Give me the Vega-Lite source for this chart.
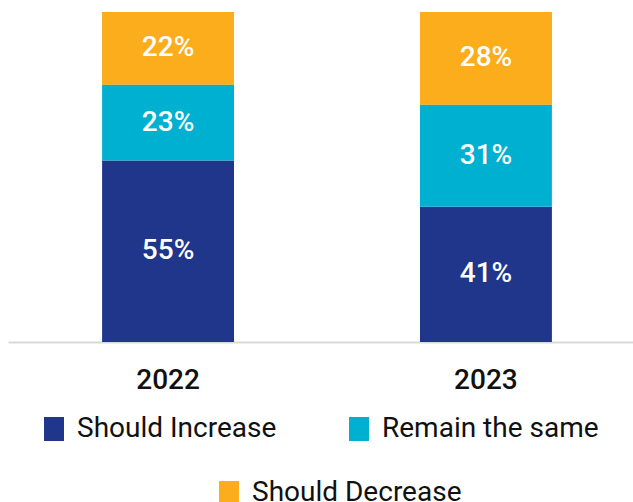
{
  "$schema": "https://vega.github.io/schema/vega-lite/v6.json",
  "width": 638,
  "height": 330,
  "autosize": "none",
  "padding": {"left": 8, "top": 12, "right": 0, "bottom": 160},
  "background": "white",
  "config": {"view": {"stroke": null}, "font": "Roboto"},
  "data": {"values": [
    {"year": "2022", "category": "Should Increase", "share": 0.55, "order": 1},
    {"year": "2022", "category": "Remain the same", "share": 0.23, "order": 2},
    {"year": "2022", "category": "Should Decrease", "share": 0.22, "order": 3},
    {"year": "2023", "category": "Should Increase", "share": 0.41, "order": 1},
    {"year": "2023", "category": "Remain the same", "share": 0.31, "order": 2},
    {"year": "2023", "category": "Should Decrease", "share": 0.28, "order": 3}
  ]},
  "transform": [
    {"stack": "share", "groupby": ["year"], "sort": [{"field": "order", "order": "ascending"}], "as": ["v0", "v1"]}
  ],
  "encoding": {
    "x": {
      "field": "year", "type": "nominal",
      "scale": {"paddingInner": 0.585, "paddingOuter": 0.296},
      "axis": {
        "title": null, "labelAngle": 0, "ticks": false,
        "domainColor": "#d9d9d9", "domainWidth": 2,
        "labelFontSize": 28, "labelFontWeight": 500, "labelColor": "#111111",
        "labelPadding": 24
      }
    }
  },
  "layer": [
    {
      "mark": {"type": "bar"},
      "encoding": {
        "y": {"field": "v0", "type": "quantitative", "scale": {"domain": [0, 1]}, "axis": null},
        "y2": {"field": "v1"},
        "color": {
          "field": "category", "type": "nominal",
          "scale": {"domain": ["Should Increase", "Remain the same", "Should Decrease"], "range": ["#1f368a", "#00b0d0", "#fbad1b"]},
          "legend": {
            "values": ["Should Increase", "Remain the same"],
            "orient": "none", "legendX": 32, "legendY": 403,
            "direction": "horizontal", "title": null,
            "symbolType": "M-0.833,-1H0.833V1H-0.833Z", "symbolSize": 576, "symbolStrokeWidth": 0, "symbolOpacity": 1,
            "labelFontSize": 28, "labelColor": "#111111", "labelOffset": 9,
            "columnPadding": 68, "labelLimit": 400
          }
        }
      }
    },
    {
      "transform": [{"filter": "datum.category == 'Should Decrease'"}],
      "mark": {"type": "bar"},
      "encoding": {
        "y": {"field": "v0", "type": "quantitative", "scale": {"domain": [0, 1]}, "axis": null},
        "y2": {"field": "v1"},
        "color": {
          "field": "category", "type": "nominal",
          "scale": {"domain": ["Should Decrease"], "range": ["#fbad1b"]},
          "legend": {
            "orient": "none", "legendX": 207, "legendY": 467,
            "direction": "horizontal", "title": null,
            "symbolType": "M-0.833,-1H0.833V1H-0.833Z", "symbolSize": 576, "symbolStrokeWidth": 0, "symbolOpacity": 1,
            "labelFontSize": 28, "labelColor": "#111111", "labelOffset": 9, "labelLimit": 400
          }
        }
      }
    },
    {
      "transform": [{"calculate": "(datum.v0 + datum.v1) / 2", "as": "mid"}],
      "mark": {"type": "text", "color": "white", "fontSize": 28, "fontWeight": 500, "baseline": "middle", "align": "center"},
      "encoding": {
        "y": {"field": "mid", "type": "quantitative", "scale": {"domain": [0, 1]}, "axis": null},
        "text": {"field": "share", "type": "quantitative", "format": ".0%"}
      }
    }
  ],
  "resolve": {"scale": {"color": "independent"}}
}
